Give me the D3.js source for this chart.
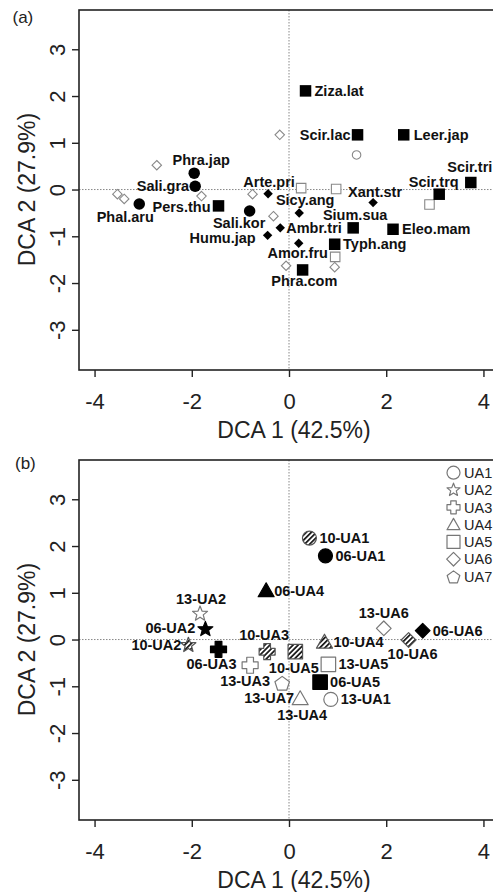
<!DOCTYPE html>
<html><head><meta charset="utf-8">
<script src="https://cdn.jsdelivr.net/npm/d3@7"></script>
<style>body{margin:0;background:#fff}svg{display:block}</style>
</head><body>
<script>
// ---------- Panel (a): species scores ----------
const speciesNames = ["Ziza.lat","Scir.lac","Leer.jap","Scir.tri","Scir.trq","Sium.sua","Eleo.mam","Typh.ang","Phra.com","Pers.thu",
                      "Phra.jap","Sali.gra","Phal.aru","Sali.kor","Arte.pri","Sicy.ang","Xant.str","Ambr.tri","Humu.jap","Amor.fru"];
const speciesShape = ["square","square","square","square","square","square","square","square","square","square",
                      "circle","circle","circle","circle","diamond","diamond","diamond","diamond","diamond","diamond"];
const speciesX = [0.34,1.41,2.36,3.74,3.09,1.32,2.14,0.94,0.28,-1.45,-1.95,-1.93,-3.08,-0.81,-0.43,0.21,1.73,-0.18,-0.44,0.20];
const speciesY = [2.11,1.17,1.17,0.15,-0.10,-0.82,-0.85,-1.17,-1.72,-0.35,0.35,0.07,-0.31,-0.46,-0.09,-0.50,-0.28,-0.82,-0.98,-1.15];
// label placement (dx, dy in px, anchor)
const speciesLabelPlace = [[9,0,"start"],[-7,0,"end"],[10,0,"start"],[-1,-15.5,"middle"],[-5.5,-12.6,"middle"],[2,-13,"middle"],
  [9,0,"start"],[8.4,0,"start"],[1.7,11,"middle"],[-8,1,"end"],[7,-13,"middle"],[-6,0,"end"],[-14,13,"middle"],[-10.5,12.3,"middle"],
  [1,-12,"middle"],[6,-12.7,"middle"],[2,-11,"middle"],[6,0,"start"],[-12,3,"end"],[-1,10,"middle"]];

// unlabelled (grey open) scores in panel (a)
const otherShape = ["diamond","diamond","diamond","diamond","diamond","diamond","diamond","diamond","diamond",
                    "square","square","square","square","circle"];
const otherX = [-0.19,-2.72,-1.80,-3.53,-3.39,-0.75,-0.32,-0.06,0.94, 0.25,0.97,2.89,0.95, 1.39];
const otherY = [1.17,0.52,-0.14,-0.10,-0.20,-0.10,-0.57,-1.63,-1.66, 0.03,0.01,-0.32,-1.44, 0.74];

// ---------- Panel (b): site scores ----------
const siteNames = ["06-UA1","10-UA1","13-UA1","06-UA2","10-UA2","13-UA2","06-UA3","10-UA3","13-UA3","06-UA4","10-UA4","13-UA4",
                   "06-UA5","10-UA5","13-UA5","06-UA6","10-UA6","13-UA6","13-UA7"];
const siteX = [0.75,0.42,0.86,-1.72,-2.07,-1.83,-1.45,-0.45,-0.80,-0.47,0.73,0.23,0.64,0.13,0.81,2.75,2.46,1.95,-0.14];
const siteY = [1.79,2.17,-1.28,0.22,-0.12,0.55,-0.21,-0.26,-0.55,1.05,-0.05,-1.26,-0.91,-0.26,-0.53,0.19,-0.01,0.24,-0.93];
const siteLabelPlace = [[10,0,"start"],[10,0,"start"],[10,0,"start"],[-10,-1,"end"],[-7,0,"end"],[1,-15,"middle"],
  [-7,15,"middle"],[-3,-16.5,"middle"],[-5,16,"middle"],[8,0,"start"],[9,0,"start"],[2,16,"middle"],[10,0,"start"],
  [-1.5,16,"middle"],[10,0,"start"],[10,0,"start"],[4,14,"middle"],[0,-15,"middle"],[-13,15,"middle"]];

const unitNames = ["UA1","UA2","UA3","UA4","UA5","UA6","UA7"];
const unitShape = ["circle","star","cross","triangle","square","diamond","pentagon"];

const xTicks = [-4,-2,0,2,4];
const yTicks = [-3,-2,-1,0,1,2,3];
const xTitle = "DCA 1 (42.5%)";
const yTitle = "DCA 2 (27.9%)";

// ---------- drawing ----------
const W = 493, H = 892;
const FONT = "'Liberation Sans', Arial, sans-serif";
const svg = d3.select("body").append("svg").attr("width", W).attr("height", H);

const defs = svg.append("defs");
const pat = defs.append("pattern").attr("id","hatch").attr("patternUnits","userSpaceOnUse")
  .attr("width",3.6).attr("height",3.6).attr("patternTransform","rotate(45)");
pat.append("rect").attr("width",3.6).attr("height",3.6).attr("fill","#fff");
pat.append("line").attr("x1",0.9).attr("y1",0).attr("x2",0.9).attr("y2",3.6).attr("stroke","#111").attr("stroke-width",1.7);

function shapePath(type, w) {
  const h = w / 2;
  const p = d3.path();
  if (type === "circle") { p.arc(0, 0, h, 0, 2 * Math.PI); p.closePath(); return p.toString(); }
  if (type === "square") { p.rect(-h, -h, w, w); return p.toString(); }
  let pts;
  if (type === "diamond") pts = [[0,-h*1.05],[h*1.05,0],[0,h*1.05],[-h*1.05,0]];
  else if (type === "triangle") { const t = w * 0.87; pts = [[0,-t*0.55],[h,t*0.45],[-h,t*0.45]]; }
  else if (type === "star") { pts = []; for (let i = 0; i < 10; i++) { const r = i % 2 ? h*0.45 : h*1.05; const a = -Math.PI/2 + i*Math.PI/5; pts.push([r*Math.cos(a), r*Math.sin(a)]); } }
  else if (type === "pentagon") { pts = []; for (let i = 0; i < 5; i++) { const a = -Math.PI/2 + i*2*Math.PI/5; pts.push([h*1.02*Math.cos(a), h*1.02*Math.sin(a)+1]); } }
  else if (type === "cross") { const a = h*0.42; pts = [[-a,-h],[a,-h],[a,-a],[h,-a],[h,a],[a,a],[a,h],[-a,h],[-a,a],[-h,a],[-h,-a],[-a,-a]]; }
  p.moveTo(pts[0][0], pts[0][1]); pts.slice(1).forEach(q => p.lineTo(q[0], q[1])); p.closePath();
  return p.toString();
}

const x = d3.scaleLinear().domain([-4.32, 4.32]).range([79, 499]);
const ya = d3.scaleLinear().domain([-3.86, 3.84]).range([370, 10]);
const yb = d3.scaleLinear().domain([-3.86, 3.84]).range([820, 460]);

function frame(y, tag, tagX, tagY) {
  const g = svg.append("g");
  const [y0, y1] = y.range();
  g.append("line").attr("x1", x(0)).attr("x2", x(0)).attr("y1", y1).attr("y2", y0)
    .attr("stroke","#888").attr("stroke-width",1).attr("stroke-dasharray","1.5,1.5");
  g.append("line").attr("x1", x.range()[0]).attr("x2", x.range()[1]).attr("y1", y(0)).attr("y2", y(0))
    .attr("stroke","#888").attr("stroke-width",1).attr("stroke-dasharray","1.5,1.5");
  g.append("rect").attr("x", x.range()[0]).attr("y", y1).attr("width", x.range()[1]-x.range()[0]).attr("height", y0-y1)
    .attr("fill","none").attr("stroke","#222").attr("stroke-width",1.6);
  const ax = g.append("g").attr("transform", `translate(0,${y0})`)
    .call(d3.axisBottom(x).tickValues(xTicks).tickSize(7).tickPadding(16).tickFormat(d => String(d)));
  ax.select(".domain").remove();
  ax.selectAll(".tick line").attr("stroke","#222").attr("stroke-width",1.4);
  ax.selectAll(".tick text").attr("font-family",FONT).attr("font-size",22).attr("fill","#222");
  const ay = g.append("g").attr("transform", `translate(${x.range()[0]},0)`)
    .call(d3.axisLeft(y).tickValues(yTicks).tickSize(7).tickFormat(d => String(d)));
  ay.select(".domain").remove();
  ay.selectAll(".tick line").attr("stroke","#222").attr("stroke-width",1.4);
  ay.selectAll(".tick text").attr("x", null).attr("dy","0.35em").attr("text-anchor","middle")
    .attr("transform","translate(-22,0) rotate(-90)")
    .attr("font-family",FONT).attr("font-size",22).attr("fill","#222");
  g.append("text").attr("x", x(0)+5).attr("y", y0 + 68).attr("text-anchor","middle")
    .attr("font-family",FONT).attr("font-size",23).attr("fill","#222").text(xTitle);
  g.append("text").attr("transform", `translate(27,${y(0)}) rotate(-90)`).attr("dy","0.35em").attr("text-anchor","middle")
    .attr("font-family",FONT).attr("font-size",23).attr("fill","#222").text(yTitle);
  g.append("text").attr("x", tagX).attr("y", tagY).attr("font-family",FONT).attr("font-size",17).attr("fill","#222").text(tag);
  return g;
}

// ----- panel (a)
frame(ya, "(a)", 12.5, 22.5);
const ga = svg.append("g");
const otherSize = {diamond: 9, square: 9.5, circle: 8.5};
ga.selectAll("path.other").data(otherShape).join("path").attr("class","other")
  .attr("d", s => shapePath(s, otherSize[s]))
  .attr("transform", (s, i) => `translate(${x(otherX[i])},${ya(otherY[i])})`)
  .attr("fill","#fff").attr("stroke","#888").attr("stroke-width",1.1);
const spSize = {square: 11.5, circle: 11.5, diamond: 9};
ga.selectAll("path.sp").data(speciesNames).join("path").attr("class","sp")
  .attr("d", (n, i) => shapePath(speciesShape[i], spSize[speciesShape[i]]))
  .attr("transform", (n, i) => `translate(${x(speciesX[i])},${ya(speciesY[i])})`)
  .attr("fill","#000");
ga.selectAll("text.sp").data(speciesNames).join("text").attr("class","sp")
  .attr("x", (n, i) => x(speciesX[i]) + speciesLabelPlace[i][0])
  .attr("y", (n, i) => ya(speciesY[i]) + speciesLabelPlace[i][1])
  .attr("dy","0.35em").attr("text-anchor", (n, i) => speciesLabelPlace[i][2])
  .attr("font-family",FONT).attr("font-weight","bold").attr("font-size",14.5).attr("fill","#111").text(n => n);

// ----- panel (b)
frame(yb, "(b)", 15, 469);
const gb = svg.append("g");
const unitOf = n => unitNames.indexOf(n.slice(3));
const yearStyle = n => n.slice(0,2);
const siteSize = {circle: 14, star: 15, cross: 16, triangle: 16, square: 14.5, diamond: 14, pentagon: 15};
gb.selectAll("path.site").data(siteNames).join("path").attr("class","site")
  .attr("d", n => { const s = unitShape[unitOf(n)]; return shapePath(s, siteSize[s]); })
  .attr("transform", (n, i) => `translate(${x(siteX[i])},${yb(siteY[i])})`)
  .attr("fill", n => yearStyle(n) === "06" ? "#000" : yearStyle(n) === "10" ? "url(#hatch)" : "#fff")
  .attr("stroke", n => yearStyle(n) === "06" ? "#000" : yearStyle(n) === "10" ? "#555" : "#777")
  .attr("stroke-width", 1.2).attr("stroke-linejoin","round");
gb.selectAll("text.site").data(siteNames).join("text").attr("class","site")
  .attr("x", (n, i) => x(siteX[i]) + siteLabelPlace[i][0])
  .attr("y", (n, i) => yb(siteY[i]) + siteLabelPlace[i][1])
  .attr("dy","0.35em").attr("text-anchor", (n, i) => siteLabelPlace[i][2])
  .attr("font-family",FONT).attr("font-weight","bold").attr("font-size",14.5).attr("fill","#111").text(n => n);

// legend
const lg = svg.append("g");
unitNames.forEach((u, i) => {
  const cy = 472.7 + i * 17.3;
  lg.append("path").attr("d", shapePath(unitShape[i], 13)).attr("transform", `translate(453.5,${cy})`)
    .attr("fill","#fff").attr("stroke","#777").attr("stroke-width",1.2).attr("stroke-linejoin","round");
  lg.append("text").attr("x", 464).attr("y", cy).attr("dy","0.36em")
    .attr("font-family",FONT).attr("font-size",14.5).attr("fill","#222").text(u);
});
</script>
</body></html>
